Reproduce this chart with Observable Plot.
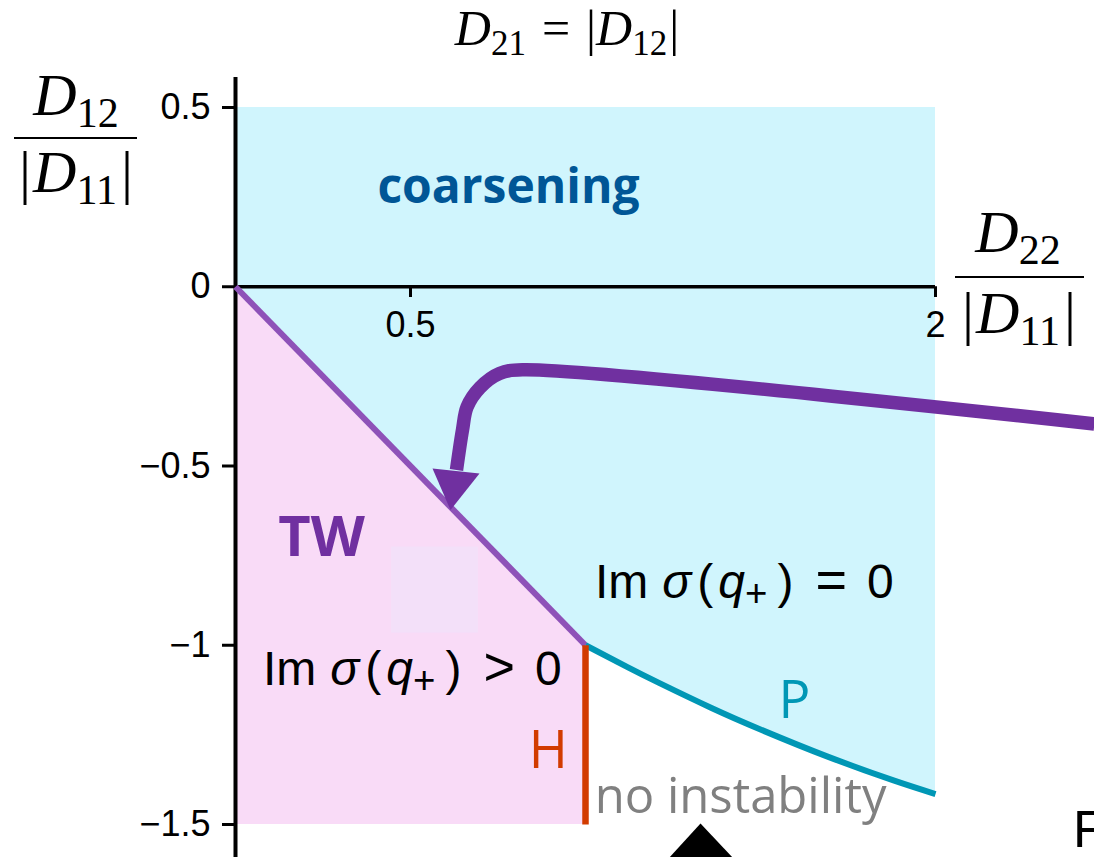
<!DOCTYPE html>
<html><head><meta charset="utf-8">
<script src="https://cdn.jsdelivr.net/npm/d3@7"></script>
<script src="https://cdn.jsdelivr.net/npm/@observablehq/plot@0.6"></script>
<style>html,body{margin:0;padding:0;background:#fff;overflow:hidden}</style>
</head><body><div id="chart"></div>
<script>
// ---- data ----
const yTicks = [0.5, 0, -0.5, -1, -1.5];
const yTickLabels = ["0.5", "0", "\u22120.5", "\u22121", "\u22121.5"];
const xTicks = [0.5, 2];
const xTickLabels = ["0.5", "2"];
const yTop = 0.5, yBottom = -1.5;
// TW boundary (purple)
const twX = [0, 1];
const twY = [0, -1];
// H boundary (red, vertical)
const hX = [1, 1];
const hY = [-1, -1.5];
// P boundary (teal)
const pX = [1, 1.12, 1.21, 1.36, 1.5, 1.69, 1.88, 2];
const pY = [-1, -1.061, -1.105, -1.175, -1.235, -1.31, -1.377, -1.415];
// faint square artefact
const squareX = [0.446, 0.694];
const squareY = [-0.966, -0.726];
// big purple arrow (annotation path, data coords)
const arrowX = [2.454, 0.82, 0.7543, 0.6989, 0.6617, 0.6486, 0.6314];
const arrowY = [-0.3827, -0.2318, -0.2419, -0.281, -0.3352, -0.3994, -0.5112];
const arrowHeadX = [0.5629, 0.6971, 0.6143];
const arrowHeadY = [-0.5070, -0.5210, -0.6229];
// black arrow at the bottom
const upHeadX = [1.237, 1.423, 1.3286];
const upHeadY = [-1.595, -1.595, -1.497];
// region labels
const labelText = ["coarsening", "TW", "P", "H", "no instability"];
const labelX = [0.78, 0.2457, 1.597, 0.894, 1.443];
const labelY = [0.2765, -0.701, -1.156, -1.296, -1.423];

// ---- derived tables ----
const bX = [...twX, ...pX.slice(1)];
const bY = [...twY, ...pY.slice(1)];
const cyanArea = bX.map((x, i) => ({x, y1: bY[i], y2: yTop}));
const pinkArea = twX.map((x, i) => ({x, y1: yBottom, y2: twY[i]}));
const tw = twX.map((x, i) => ({x, y: twY[i]}));
const h = hX.map((x, i) => ({x, y: hY[i]}));
const p = pX.map((x, i) => ({x, y: pY[i]}));
const arrow = arrowX.map((x, i) => ({x, y: arrowY[i]}));
const arrowHead = arrowHeadX.map((x, i) => ({x, y: arrowHeadY[i]}));
const upHead = upHeadX.map((x, i) => ({x, y: upHeadY[i]}));
const labels = labelText.map((t, i) => ({t, x: labelX[i], y: labelY[i]}));

const cCyan = "#d0f5fd", cPink = "#f9dbf7", cPurple = "#8e52b8", cArrow = "#7030a0",
      cTeal = "#0097b5", cRed = "#d23b00", cBlue = "#005696", cGray = "#808080";
const labelStyle = [
  {fill: cBlue, fontWeight: "bold", fontSize: 48},
  {fill: cArrow, fontWeight: "bold", fontSize: 56},
  {fill: cTeal, fontWeight: "normal", fontSize: 53},
  {fill: cRed, fontWeight: "normal", fontSize: 53},
  {fill: cGray, fontWeight: "normal", fontSize: 49}
];

const chart = Plot.plot({
  width: 1094, height: 857,
  marginLeft: 235, marginRight: 159, marginTop: 77, marginBottom: 0,
  x: {domain: [0, 2], axis: null},
  y: {domain: [yBottom, yTop], range: [824, 107], axis: null},
  style: {fontFamily: "'Liberation Sans', Arial, sans-serif", background: "white", color: "black"},
  marks: [
    Plot.areaY(cyanArea, {x: "x", y1: "y1", y2: "y2", fill: cCyan}),
    Plot.areaY(pinkArea, {x: "x", y1: "y1", y2: "y2", fill: cPink}),
    Plot.rect([0], {x1: () => squareX[0], x2: () => squareX[1], y1: () => squareY[0], y2: () => squareY[1], fill: "#f3e0f9"}),
    Plot.ruleY([0], {x1: 0, x2: 2, strokeWidth: 3.5, stroke: "black"}),
    Plot.ruleX(xTicks, {x: d => d, y1: 0, y2: -0.03, strokeWidth: 3, stroke: "black"}),
    Plot.text(xTicks, {x: d => d, y: 0, text: (d) => xTickLabels[xTicks.indexOf(d)], dy: 39, fontSize: 36}),
    Plot.ruleX([0], {strokeWidth: 4, stroke: "black"}),
    Plot.axisY({ticks: yTicks, tickFormat: d => yTickLabels[yTicks.indexOf(d)], tickSize: 13, tickPadding: 12, fontSize: 36, strokeWidth: 3, label: null}),
    Plot.line(tw, {x: "x", y: "y", stroke: cPurple, strokeWidth: 6, strokeLinecap: "butt"}),
    Plot.line(p, {x: "x", y: "y", stroke: cTeal, strokeWidth: 6, strokeLinecap: "butt", curve: "natural"}),
    Plot.line(h, {x: "x", y: "y", stroke: cRed, strokeWidth: 6.5, strokeLinecap: "butt"}),
    Plot.line(arrow, {x: "x", y: "y", stroke: cArrow, strokeWidth: 13.5, strokeLinecap: "butt", strokeLinejoin: "round", curve: "catmull-rom"}),
    Plot.line(arrowHead, {x: "x", y: "y", fill: cArrow, stroke: "none"}),
    Plot.line(upHead, {x: "x", y: "y", fill: "black", stroke: "none"}),
    Plot.ruleX([upHeadX[2]], {y1: -1.55, y2: -1.7, stroke: "black", strokeWidth: 13}),
    ...labels.map((d, i) => Plot.text([d], {x: "x", y: "y", text: "t", fontFamily: "'Open Sans', sans-serif", ...labelStyle[i]}))
  ]
});
document.getElementById("chart").appendChild(chart);

// ---- rich math text annotations ----
const svg = d3.select(chart);
const sx = chart.scale("x"), sy = chart.scale("y");
function rich(parts, o) {
  const t = svg.append("text")
    .attr("x", o.x).attr("y", o.y)
    .attr("text-anchor", o.anchor || "start")
    .attr("font-family", o.family)
    .attr("font-size", o.size)
    .attr("fill", o.fill || "black");
  let shift = 0;
  for (const q of parts) {
    const s = t.append("tspan").text(q.t);
    const target = q.sub ? o.size * (o.subShift || 0.2) : 0;
    let dy = target - shift;
    if (dy !== 0) { s.attr("dy", dy); shift = target; }
    if (q.sub) s.attr("font-size", o.size * (o.subSize || 0.7));
    if (q.it) s.attr("font-style", "italic");
    if (q.dx) s.attr("dx", q.dx);
    if (q.fs) s.attr("font-size", q.fs);
  }
  return t;
}
const serif = "'Liberation Serif', 'Times New Roman', serif";
const sans = "'Liberation Sans', Arial, sans-serif";
// title
rich([{t: "D", it: true}, {t: "21", sub: true}, {t: "=", dx: 16}, {t: "|", dx: 16}, {t: "D", it: true}, {t: "12", sub: true}, {t: "|", dx: 2}],
  {x: 567, y: 45, anchor: "middle", family: serif, size: 50});
// y label
rich([{t: "D", it: true}, {t: "12", sub: true}], {x: 76, y: 115, anchor: "middle", family: serif, size: 60});
svg.append("line").attr("x1", 14).attr("x2", 137).attr("y1", 138).attr("y2", 138).attr("stroke", "black").attr("stroke-width", 2.2);
rich([{t: "|"}, {t: "D", it: true, dx: 2}, {t: "11", sub: true}, {t: "|", dx: 4}], {x: 76, y: 192, anchor: "middle", family: serif, size: 60});
// x label
rich([{t: "D", it: true}, {t: "22", sub: true}], {x: 1018, y: 252, anchor: "middle", family: serif, size: 60});
svg.append("line").attr("x1", 955).attr("x2", 1084).attr("y1", 277).attr("y2", 277).attr("stroke", "black").attr("stroke-width", 2.2);
rich([{t: "|"}, {t: "D", it: true, dx: 2}, {t: "11", sub: true}, {t: "|", dx: 4}], {x: 1019, y: 333, anchor: "middle", family: serif, size: 60});
// Im sigma labels
const imParts = (rel) => [{t: "Im"}, {t: "\u03C3", it: true, dx: 14}, {t: "(", dx: 6}, {t: "q", it: true, dx: 5}, {t: "+", sub: true}, {t: ")", dx: 10}, {t: rel, dx: 22, fs: 54}, {t: "0", dx: 20}];
rich(imParts("="), {x: sx.apply(1.0286), y: sy.apply(-0.8687), family: sans, size: 48, subShift: 0.17, subSize: 0.8});
rich(imParts(">"), {x: sx.apply(0.08), y: sy.apply(-1.1115), family: sans, size: 48, subShift: 0.17, subSize: 0.8});
// clipped letter at the bottom right (cut off by the edge in the reference too)
svg.append("text").attr("x", 1073).attr("y", 847).attr("text-anchor", "start").attr("font-family", sans).attr("font-size", 52).text("F");
</script></body></html>
